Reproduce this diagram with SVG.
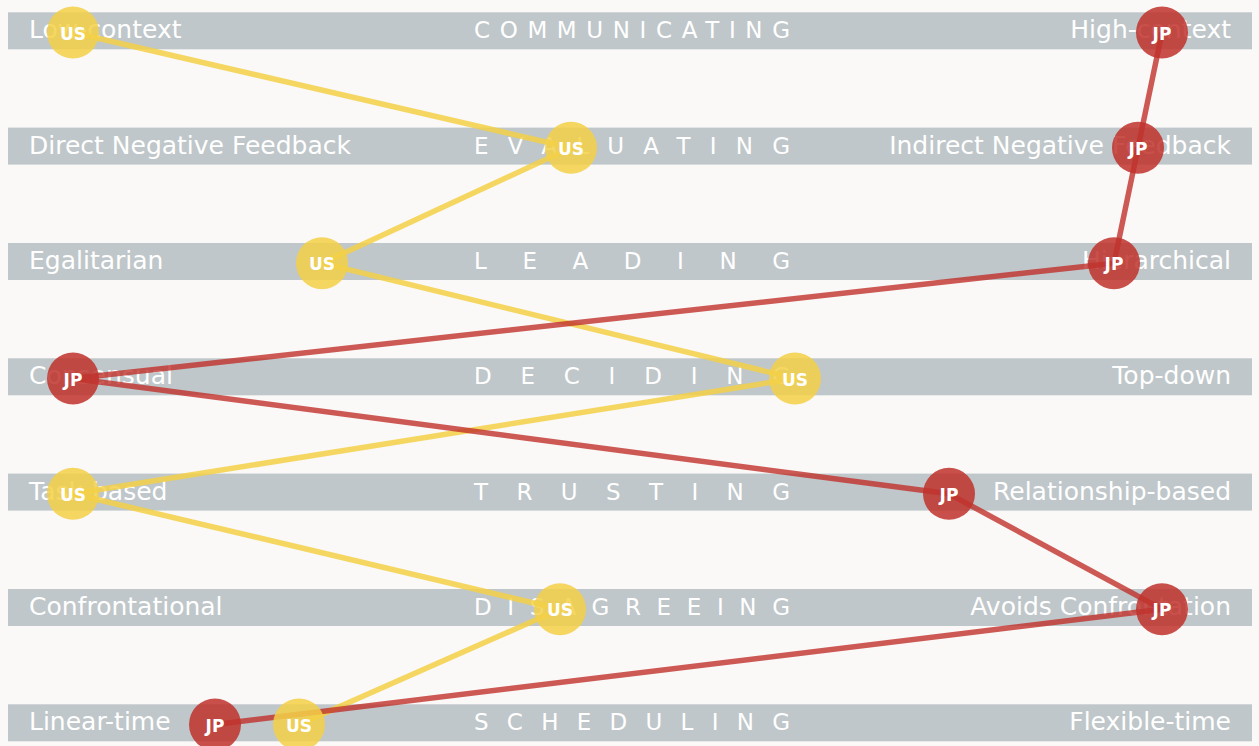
<svg xmlns="http://www.w3.org/2000/svg" width="1259" height="746" viewBox="0 0 1259 746">
<style>
.bar{fill:#bfc7ca}
.side{font-family:"DejaVu Sans",Verdana,sans-serif;font-size:25px;fill:#ffffff}
.r{text-anchor:end}
.mid{font-family:"DejaVu Sans",Verdana,sans-serif;font-size:23px;fill:#ffffff}
.us circle{fill:#f3d046;opacity:0.85}
.jp circle{fill:#c0312b;opacity:0.85}
.node text{font-family:"DejaVu Sans",Verdana,sans-serif;font-size:17px;font-weight:bold;fill:#ffffff;text-anchor:middle}
.lus{fill:none;stroke:#f3d046;stroke-width:5.5;stroke-opacity:0.85;stroke-linejoin:round}
.ljp{fill:none;stroke:#c0312b;stroke-width:5.5;stroke-opacity:0.8;stroke-linejoin:round}
</style>
<rect width="1259" height="746" fill="#faf9f8"/>
<g id="rows">
<g id="row-communicating">
<rect class="bar" x="8" y="12.3" width="1244" height="37"/>
<text class="side" x="29" y="38.3">Low-context</text>
<text class="mid" x="474" y="38.3" textLength="316" lengthAdjust="spacing">COMMUNICATING</text>
<text class="side r" x="1231" y="38.3">High-context</text>
</g>
<g id="row-evaluating">
<rect class="bar" x="8" y="127.6" width="1244" height="37"/>
<text class="side" x="29" y="153.6">Direct Negative Feedback</text>
<text class="mid" x="474" y="153.6" textLength="316" lengthAdjust="spacing">EVALUATING</text>
<text class="side r" x="1231" y="153.6">Indirect Negative Feedback</text>
</g>
<g id="row-leading">
<rect class="bar" x="8" y="243" width="1244" height="37"/>
<text class="side" x="29" y="269">Egalitarian</text>
<text class="mid" x="474" y="269" textLength="316" lengthAdjust="spacing">LEADING</text>
<text class="side r" x="1231" y="269">Hierarchical</text>
</g>
<g id="row-deciding">
<rect class="bar" x="8" y="358.3" width="1244" height="37"/>
<text class="side" x="29" y="384.3">Consensual</text>
<text class="mid" x="474" y="384.3" textLength="316" lengthAdjust="spacing">DECIDING</text>
<text class="side r" x="1231" y="384.3">Top-down</text>
</g>
<g id="row-trusting">
<rect class="bar" x="8" y="473.6" width="1244" height="37"/>
<text class="side" x="29" y="499.6">Task-based</text>
<text class="mid" x="474" y="499.6" textLength="316" lengthAdjust="spacing">TRUSTING</text>
<text class="side r" x="1231" y="499.6">Relationship-based</text>
</g>
<g id="row-disagreeing">
<rect class="bar" x="8" y="589" width="1244" height="37"/>
<text class="side" x="29" y="615">Confrontational</text>
<text class="mid" x="474" y="615" textLength="316" lengthAdjust="spacing">DISAGREEING</text>
<text class="side r" x="1231" y="615">Avoids Confrontation</text>
</g>
<g id="row-scheduling">
<rect class="bar" x="8" y="704.3" width="1244" height="37"/>
<text class="side" x="29" y="730.3">Linear-time</text>
<text class="mid" x="474" y="730.3" textLength="316" lengthAdjust="spacing">SCHEDULING</text>
<text class="side r" x="1231" y="730.3">Flexible-time</text>
</g>
</g>
<g id="connectors">
<polyline class="lus" points="73,32.5 571,147.8 322,263.2 795,378.5 73,493.8 560,609.2 299,724.5"/>
<polyline class="ljp" points="1162,32.5 1138,147.8 1114,263.2 73,378.5 949,493.8 1162,609.2 215,724.5"/>
</g>
<g id="nodes">
<g id="us-communicating" class="node us"><circle cx="73" cy="32.5" r="26"/><text x="73" y="39.5">US</text></g>
<g id="us-evaluating" class="node us"><circle cx="571" cy="147.8" r="26"/><text x="571" y="154.8">US</text></g>
<g id="us-leading" class="node us"><circle cx="322" cy="263.2" r="26"/><text x="322" y="270.2">US</text></g>
<g id="us-deciding" class="node us"><circle cx="795" cy="378.5" r="26"/><text x="795" y="385.5">US</text></g>
<g id="us-trusting" class="node us"><circle cx="73" cy="493.8" r="26"/><text x="73" y="500.8">US</text></g>
<g id="us-disagreeing" class="node us"><circle cx="560" cy="609.2" r="26"/><text x="560" y="616.2">US</text></g>
<g id="us-scheduling" class="node us"><circle cx="299" cy="724.5" r="26"/><text x="299" y="731.5">US</text></g>
<g id="jp-communicating" class="node jp"><circle cx="1162" cy="32.5" r="26"/><text x="1162" y="39.5">JP</text></g>
<g id="jp-evaluating" class="node jp"><circle cx="1138" cy="147.8" r="26"/><text x="1138" y="154.8">JP</text></g>
<g id="jp-leading" class="node jp"><circle cx="1114" cy="263.2" r="26"/><text x="1114" y="270.2">JP</text></g>
<g id="jp-deciding" class="node jp"><circle cx="73" cy="378.5" r="26"/><text x="73" y="385.5">JP</text></g>
<g id="jp-trusting" class="node jp"><circle cx="949" cy="493.8" r="26"/><text x="949" y="500.8">JP</text></g>
<g id="jp-disagreeing" class="node jp"><circle cx="1162" cy="609.2" r="26"/><text x="1162" y="616.2">JP</text></g>
<g id="jp-scheduling" class="node jp"><circle cx="215" cy="724.5" r="26"/><text x="215" y="731.5">JP</text></g>
</g>
</svg>
